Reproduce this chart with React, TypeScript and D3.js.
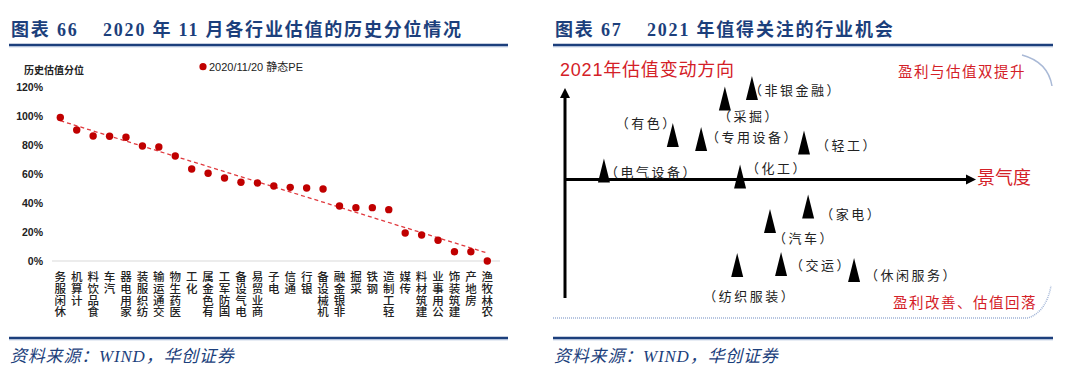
import React from 'react';
import * as d3 from 'd3';

// ---------- Left chart data ----------
const categories = ['休闲服务', '计算机', '食品饮料', '汽车', '家用电器', '纺织服装', '交通运输', '医药生物', '化工', '有色金属', '国防军工', '电气设备', '商业贸易', '电子', '通信', '银行', '机械设备', '非银金融', '采掘', '钢铁', '轻工制造', '传媒', '建筑材料', '公用事业', '建筑装饰', '房地产', '农林牧渔'];
const percentiles = [0.99, 0.903, 0.862, 0.86, 0.853, 0.793, 0.786, 0.724, 0.634, 0.605, 0.572, 0.543, 0.538, 0.517, 0.508, 0.503, 0.497, 0.379, 0.368, 0.368, 0.354, 0.193, 0.179, 0.143, 0.064, 0.064, 0.0];
const yTicks = [0, 0.2, 0.4, 0.6, 0.8, 1.0, 1.2];
const legendLabel = '2020/11/20 静态PE';

// ---------- Right chart data ----------
const sectors = ['电气设备', '化工', '有色', '专用设备', '采掘', '非银金融', '轻工', '家电', '汽车', '纺织服装', '交运', '休闲服务'];
const prosperity = [0.95, 4.27, 2.63, 3.32, 3.9, 4.56, 5.83, 5.93, 5.0, 4.2, 5.27, 7.05];
const valuationChange = [0.75, 0.25, 3.72, 3.39, 6.78, 7.66, 3.1, -2.26, -3.47, -7.15, -7.07, -7.57];
const labelDx = [1, 6, -57, 5, -7, -3, 12, 12, 3, -34, 9, 11];
const labelDy = [0.5, -9.5, -13, -2, 17.5, 2, 2.5, 6.5, 17, 31, 1, 5];

const NAVY = '#1c3f7c';
const RED = '#c00000';
const CJK = '"Noto Sans CJK SC", sans-serif';
const TITLE_FONT = '"Liberation Serif", "Noto Sans CJK SC", serif';

function Frame({ x0, x1, title1, title2, x2 }: { x0: number; x1: number; title1: string; title2: string; x2: number }) {
  return (
    <g>
      <text x={x0 + 2} y={36} fontFamily={TITLE_FONT} fontWeight="bold" fontSize={18} fill={NAVY} letterSpacing={1.8}>{title1}</text>
      <text x={x2} y={36} fontFamily={TITLE_FONT} fontWeight="bold" fontSize={18} fill={NAVY} letterSpacing={1.8}>{title2}</text>
      <line x1={x0} x2={x1} y1={45} y2={45} stroke={NAVY} strokeWidth={2.5} />
      <line x1={x0} x2={x1} y1={46.8} y2={46.8} stroke="#9db3d4" strokeWidth={0.8} />
      <line x1={x0} x2={x1} y1={338} y2={338} stroke={NAVY} strokeWidth={2.5} />
      <line x1={x0} x2={x1} y1={339.8} y2={339.8} stroke="#9db3d4" strokeWidth={0.8} />
      <text x={x0 + 1} y={362} fontFamily={TITLE_FONT} fontStyle="italic" fontSize={17} fill={NAVY} letterSpacing={0.8}>资料来源：WIND，华创证券</text>
    </g>
  );
}

function LeftChart() {
  const x = d3.scalePoint<string>().domain(categories).range([60.3, 487.3]);
  const y = d3.scaleLinear().domain([0, 1.2]).range([261, 87]);
  const n = percentiles.length;
  const idx = d3.range(n);
  const mx = d3.mean(idx)!;
  const my = d3.mean(percentiles)!;
  const slope = d3.sum(idx, (i) => (i - mx) * (percentiles[i] - my)) / d3.sum(idx, (i) => (i - mx) ** 2);
  const intercept = my - slope * mx;
  const trend = d3.line<number>().x((i) => x(categories[i])!).y((i) => y(intercept + slope * i));
  const fmt = d3.format('.0%');
  return (
    <g>
      <text x={24} y={74} fontFamily={CJK} fontSize={10} fill="#222" fontWeight="bold">历史估值分位</text>
      <circle cx={203} cy={66.7} r={3.6} fill={RED} />
      <text x={209} y={71} fontFamily={'"Liberation Sans", "Noto Sans CJK SC", sans-serif'} fontSize={11} fill="#222">{legendLabel}</text>
      <line x1={52} x2={500} y1={y(0)} y2={y(0)} stroke="#d9d9d9" strokeWidth={1} />
      {yTicks.map((t) => (
        <text key={t} x={43} y={y(t)} dy="0.35em" textAnchor="end" fontFamily='"Liberation Sans", sans-serif' fontWeight="bold" fontSize={10.5} fill="#222">{fmt(t)}</text>
      ))}
      <path d={trend([0, n - 1])!} fill="none" stroke="#e0393e" strokeWidth={1.3} strokeDasharray="4,3" />
      {categories.map((c, i) => (
        <circle key={c} cx={x(c)} cy={y(percentiles[i])} r={3.7} fill={RED} />
      ))}
      {categories.map((c) => (
        <text
          key={'l' + c}
          x={x(c)}
          y={271}
          fontFamily={CJK}
          fontSize={11.5}
          fill="#222"
          fontWeight="500"
          letterSpacing={0.2}
          style={{ writingMode: 'vertical-rl', textOrientation: 'upright' } as React.CSSProperties}
        >
          {Array.from(c).reverse().join('')}
        </text>
      ))}
    </g>
  );
}

function RightChart() {
  const x = d3.scaleLinear().domain([0, 10]).range([565, 975]);
  const y = d3.scaleLinear().domain([-10, 10]).range([299, 60]);
  const axisY = y(0);
  const triW = 12;
  const triH = 24;
  return (
    <g>
      <text x={560} y={76} fontFamily={'"Liberation Sans", "Noto Sans CJK SC", sans-serif'} fontSize={18} fill="#d42027" letterSpacing={0.8}>2021年估值变动方向</text>
      <text x={898} y={77} fontFamily={CJK} fontSize={14.5} fill="#d42027" letterSpacing={1.5}>盈利与估值双提升</text>
      <text x={893} y={308} fontFamily={CJK} fontSize={14.5} fill="#d42027" letterSpacing={1.5}>盈利改善、估值回落</text>
      <text x={977} y={184} fontFamily={CJK} fontSize={18} fill="#d42027">景气度</text>
      {/* decorative border */}
      <path d="M1022,55 Q1048,62 1052,86" fill="none" stroke="#a9b9d6" strokeWidth={1.5} />
      <path d="M553,318 L1028,318 Q1046,312 1051,286" fill="none" stroke="#9fb3d6" strokeWidth={1.5} strokeDasharray="1,1" />
      {/* axes */}
      <line x1={x(0)} x2={x(0)} y1={298} y2={97} stroke="#000" strokeWidth={3} />
      <path d={`M${x(0) - 5},${98} L${x(0)},${88} L${x(0) + 5},${98} Z`} fill="#000" />
      <line x1={x(0)} x2={967} y1={axisY} y2={axisY} stroke="#000" strokeWidth={3} />
      <path d={`M966,${axisY - 5} L976,${axisY} L966,${axisY + 5} Z`} fill="#000" />
      {sectors.map((s, i) => {
        const cx = x(prosperity[i]);
        const cy = y(valuationChange[i]);
        return (
          <g key={s}>
            <path d={`M${cx},${cy - triH / 2} L${cx + triW / 2},${cy + triH / 2} L${cx - triW / 2},${cy + triH / 2} Z`} fill="#000" />
            <text x={cx + labelDx[i]} y={cy + labelDy[i]} dominantBaseline="central" fontFamily={CJK} fontSize={13} fill="#222" letterSpacing={2.5}>{'（' + s + '）'}</text>
          </g>
        );
      })}
    </g>
  );
}

export default function App() {
  return (
    <div style={{ position: 'absolute', left: 0, top: 0 }}>
      <svg width={1080} height={379} style={{ display: 'block', background: '#fff' }}>
        <rect width={1080} height={379} fill="#fff" />
        <Frame x0={9} x1={508} title1="图表 66" x2={103} title2="2020 年 11 月各行业估值的历史分位情况" />
        <Frame x0={553} x1={1053} title1="图表 67" x2={647} title2="2021 年值得关注的行业机会" />
        <LeftChart />
        <RightChart />
      </svg>
    </div>
  );
}
